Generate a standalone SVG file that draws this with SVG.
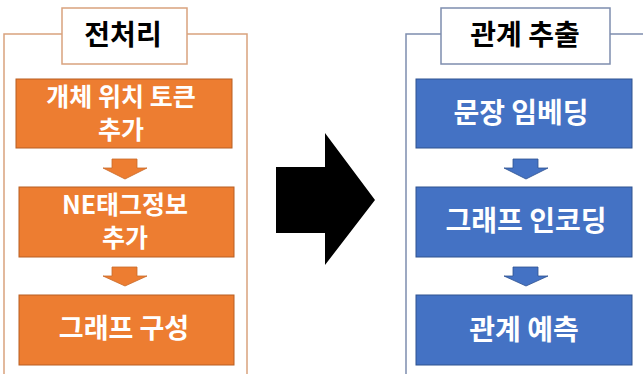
<svg xmlns="http://www.w3.org/2000/svg" width="643" height="374" viewBox="0 0 643 374">
<style>
.frameO{fill:none;stroke:#D9A27E;stroke-width:1.5}
.frameB{fill:none;stroke:#7E8DAE;stroke-width:1.5}
.titleO{fill:#fff;stroke:#D9A27E;stroke-width:1.5}
.titleB{fill:#fff;stroke:#7E8DAE;stroke-width:1.5}
.boxO{fill:#ED7D31;stroke:#B85F22;stroke-width:1}
.boxB{fill:#4472C4;stroke:#2F528F;stroke-width:1}
.arrO{fill:#ED7D31;stroke:#C86A28;stroke-width:0.8}
.arrB{fill:#4472C4;stroke:#2F528F;stroke-width:0.8}
text{font-family:"Noto Sans CJK KR","Noto Sans",sans-serif;font-weight:bold;text-anchor:middle}
.t{fill:#000;font-size:28px}
.w{fill:#fff;font-size:28px}
.ws{fill:#fff;font-size:25px}
.wm{fill:#fff;font-size:27px}
</style>
<rect width="643" height="374" fill="#fff"/>
<g id="panel-left">
<polyline class="frameO" points="4,374 4,34 62,34"/>
<polyline class="frameO" points="187,34 247,34 247,374"/>
</g>
<g id="panel-right">
<polyline class="frameB" points="406,374 406,34 441,34"/>
<polyline class="frameB" points="610,34 643,34"/>
</g>
<g id="title-left"><rect class="titleO" x="62" y="8" width="125" height="56"/><text class="t" x="123" y="45">전처리</text></g>
<g id="title-right"><rect class="titleB" x="441" y="8" width="169" height="56"/><text class="t" x="525" y="45">관계 추출</text></g>
<g id="n1"><rect class="boxO" x="16" y="79" width="216" height="69"/><text class="ws" x="121" y="106">개체 위치 토큰<tspan x="121" dy="33">추가</tspan></text></g>
<g id="n2"><rect class="boxO" x="19" y="187" width="215" height="70"/><text class="ws" x="125" y="214">NE태그정보<tspan x="125" dy="33">추가</tspan></text></g>
<g id="n3"><rect class="boxO" x="19" y="295" width="215" height="70"/><text class="wm" x="124" y="338">그래프 구성</text></g>
<g id="n4"><rect class="boxB" x="416" y="79" width="216" height="69"/><text class="w" x="521" y="123">문장 임베딩</text></g>
<g id="n5"><rect class="boxB" x="416" y="187" width="216" height="70"/><text class="w" x="526" y="231">그래프 인코딩</text></g>
<g id="n6"><rect class="boxB" x="416" y="295" width="216" height="70"/><text class="w" x="524" y="340">관계 예측</text></g>
<g id="connectors">
<polygon class="arrO" points="112,159 137,159 137,168 147,168 125,179 103,168 112,168"/>
<polygon class="arrO" points="112,267 137,267 137,276 147,276 125,286 103,276 112,276"/>
<polygon class="arrB" points="513,159 538,159 538,168 548,168 526,179 504,168 513,168"/>
<polygon class="arrB" points="513,267 538,267 538,276 548,276 526,286 504,276 513,276"/>
<polygon fill="#000" points="276,167 325,167 325,133 375,200 325,265 325,233 276,233"/>
</g>
</svg>
